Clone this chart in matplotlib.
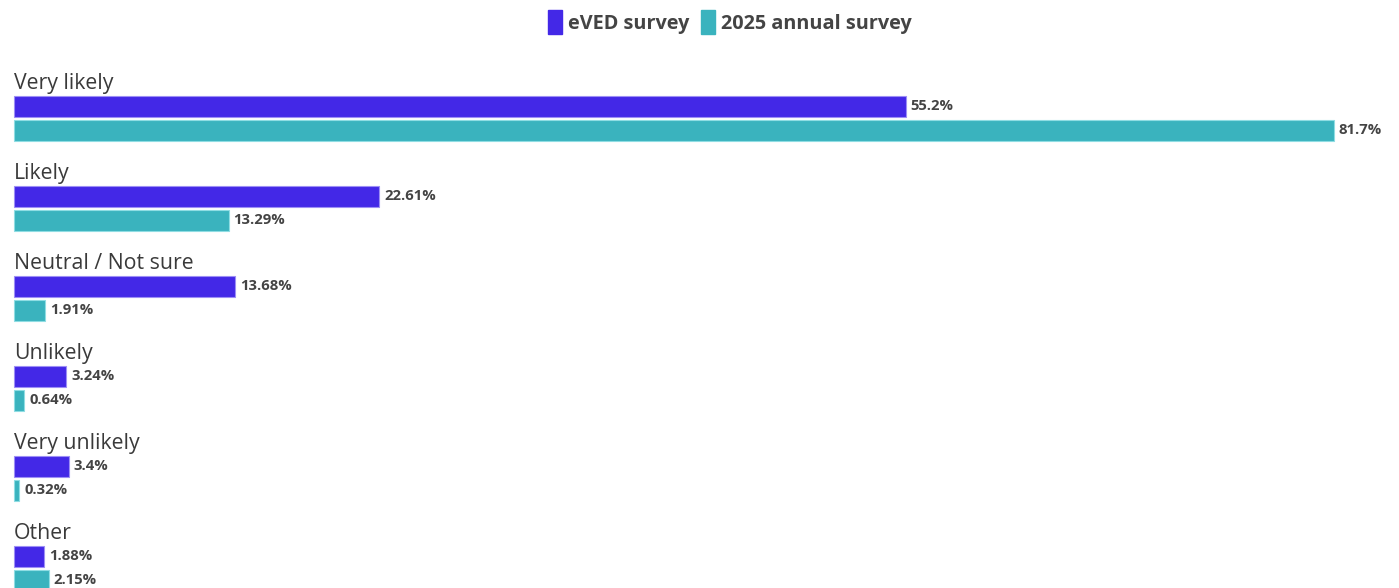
import matplotlib.pyplot as plt
from matplotlib.patches import Patch

categories = ['Very likely', 'Likely', 'Neutral / Not sure', 'Unlikely', 'Very unlikely', 'Other']
eved = [55.2, 22.61, 13.68, 3.24, 3.4, 1.88]
annual = [81.7, 13.29, 1.91, 0.64, 0.32, 2.15]
eved_labels = ['55.2%', '22.61%', '13.68%', '3.24%', '3.4%', '1.88%']
annual_labels = ['81.7%', '13.29%', '1.91%', '0.64%', '0.32%', '2.15%']
series_names = ['eVED survey', '2025 annual survey']

purple = '#4328E7'
teal = '#3AB3BE'
plt.rcParams['font.family'] = ['Open Sans', 'DejaVu Sans']

W, H = 1399, 588
fig = plt.figure(figsize=(W / 100, H / 100), dpi=100)
# axes in pixel-like coordinates vertically, percent horizontally
ax = fig.add_axes([14 / W, 0, (1334 - 14) / W, 1])
ax.set_xlim(0, 81.7)
ax.set_ylim(H, 0)
ax.axis('off')

step = 90
bar_h = 21
for i, cat in enumerate(categories):
    y0 = 106.5 + step * i
    y1 = 130 + step * i
    ax.barh(y0, eved[i], height=bar_h, color=purple, edgecolor='#9d8ff5', linewidth=0.8, clip_on=False)
    ax.barh(y1, annual[i], height=bar_h, color=teal, edgecolor='#8fdde3', linewidth=0.8, clip_on=False)
    ax.text(0, y0 - 23, cat, fontsize=15.3, color='#3a3a3a', va='center', ha='left', clip_on=False)
    ax.annotate(eved_labels[i], (eved[i], y0), xytext=(3.5, 0), textcoords='offset points',
                va='center', ha='left', fontsize=10.7, fontweight='bold', color='#444444', annotation_clip=False)
    ax.annotate(annual_labels[i], (annual[i], y1), xytext=(3.5, 0), textcoords='offset points',
                va='center', ha='left', fontsize=10.7, fontweight='bold', color='#444444', annotation_clip=False)

handles = [Patch(facecolor=purple, edgecolor=purple), Patch(facecolor=teal, edgecolor=teal)]
fig.legend(handles, series_names, loc='center', bbox_to_anchor=(730 / W, 1 - 22 / H), ncol=2,
           frameon=False, handlelength=0.7, handleheight=1.5, handletextpad=0.3, columnspacing=0.6,
           prop={'size': 14.3, 'weight': 'bold'}, labelcolor='#444444')

fig.savefig('out.png', dpi=100)
